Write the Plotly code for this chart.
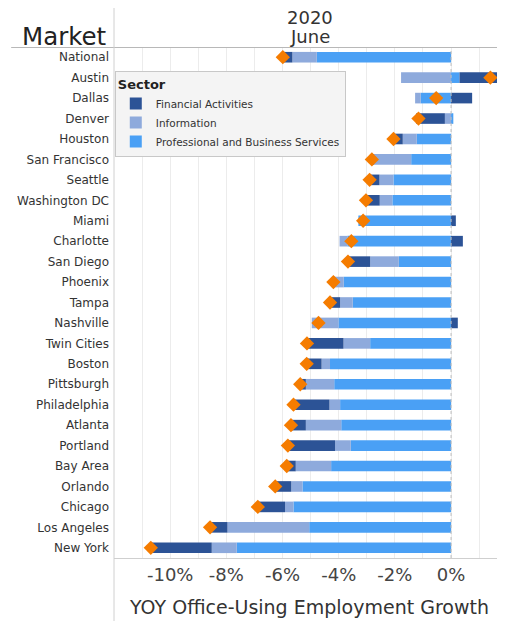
import plotly.graph_objects as go

markets = ["National", "Austin", "Dallas", "Denver", "Houston", "San Francisco", "Seattle",
           "Washington DC", "Miami", "Charlotte", "San Diego", "Phoenix", "Tampa", "Nashville",
           "Twin Cities", "Boston", "Pittsburgh", "Philadelphia", "Atlanta", "Portland",
           "Bay Area", "Orlando", "Chicago", "Los Angeles", "New York"]

prof_business = [-4.78, 0.30, -1.08, 0.08, -1.22, -1.42, -2.05, -2.09, -3.30, -3.69, -1.86, -3.82, -3.50,
                 -4.01, -2.88, -4.31, -4.16, -3.95, -3.91, -3.57, -4.27, -5.29, -5.61, -5.05, -7.63]
information = [-0.87, -1.78, -0.20, -0.22, -0.50, -1.32, -0.50, -0.45, 0.00, -0.28, -1.02, -0.33, -0.45,
               -0.95, -0.95, -0.30, -1.01, -0.38, -1.26, -0.56, -1.26, -0.40, -0.30, -2.91, -0.89]
financial = [-0.34, 2.88, 0.75, -1.02, -0.33, -0.08, -0.35, -0.49, 0.17, 0.42, -0.79, -0.04, -0.36,
             0.24, -1.30, -0.53, -0.20, -1.28, -0.53, -1.68, -0.32, -0.57, -0.97, -0.62, -2.17]

totals = [p + i + f for p, i, f in zip(prof_business, information, financial)]

tick_vals = [-10, -8, -6, -4, -2, 0]
tick_text = ["-10%", "-8%", "-6%", "-4%", "-2%", "0%"]

FONT = "DejaVu Sans"
C_PROF = "#4aa0f5"
C_INFO = "#8eaadc"
C_FIN = "#2c5396"
C_TOT = "#f57c00"

fig = go.Figure()
fig.add_trace(go.Bar(y=markets, x=prof_business, orientation="h", name="Professional and Business Services",
                     marker=dict(color=C_PROF, line=dict(width=0)), width=0.52))
fig.add_trace(go.Bar(y=markets, x=information, orientation="h", name="Information",
                     marker=dict(color=C_INFO, line=dict(width=0)), width=0.52))
fig.add_trace(go.Bar(y=markets, x=financial, orientation="h", name="Financial Activities",
                     marker=dict(color=C_FIN, line=dict(width=0)), width=0.52))
fig.add_trace(go.Scatter(y=markets, x=totals, mode="markers", showlegend=False,
                         marker=dict(symbol="diamond", size=11, color=C_TOT)))

# page body has an 8px margin; the figure is sized so the plot lands at the reference pixels
fig.update_layout(
    width=497, height=613,
    margin=dict(l=106, r=0, t=39, b=63),
    barmode="relative",
    plot_bgcolor="white", paper_bgcolor="white",
    font=dict(family=FONT, color="#333333"),
    hovermode=False,
    legend=dict(
        x=0.002, y=0.953, xanchor="left", yanchor="top",
        bgcolor="#f4f4f4", bordercolor="#c8c8c8", borderwidth=1,
        traceorder="reversed",
        font=dict(size=10.5, family=FONT, color="#333333"),
        title=dict(text="<b>Sector</b>", font=dict(size=13, family=FONT, color="#222222")),
        itemwidth=30, tracegroupgap=0,
    ),
    xaxis=dict(
        range=[-12.0, 1.92],
        tickvals=tick_vals, ticktext=tick_text,
        showgrid=True, gridcolor="#ececec", gridwidth=1,
        minor=dict(dtick=1, tick0=0, showgrid=True, gridcolor="#ececec", gridwidth=1),
        zeroline=False,
        showline=True, linecolor="#cfcfcf", linewidth=1,
        ticks="", tickfont=dict(size=18, family=FONT, color="#444444"),
        title=dict(text="YOY Office-Using Employment Growth", font=dict(size=19, family=FONT, color="#333333"),
                   standoff=17),
        automargin=False, fixedrange=True,
    ),
    yaxis=dict(
        categoryorder="array", categoryarray=markets, range=[24.5, -0.5],
        showgrid=False, zeroline=False, showline=False,
        ticks="", tickfont=dict(size=12, family=FONT, color="#333333"),
        ticklabelstandoff=4,
        automargin=False, fixedrange=True,
    ),
    shapes=[
        dict(type="line", xref="x", yref="paper", x0=0, x1=0, y0=0, y1=1,
             line=dict(color="#bdbdbd", width=1, dash="dot")),
        dict(type="line", xref="paper", yref="paper", x0=-0.263, x1=1, y0=0.999, y1=0.999,
             line=dict(color="#b8b8b8", width=1)),
        dict(type="line", xref="paper", yref="paper", x0=0, x1=0, y0=-0.125, y1=1.082,
             line=dict(color="#d0d0d0", width=1)),
    ],
    annotations=[
        dict(text="Market", xref="paper", yref="paper", x=-0.012, y=1.0215, xanchor="right", yanchor="middle",
             showarrow=False, font=dict(size=24.5, family=FONT, color="#222222")),
        dict(text="2020", xref="paper", yref="paper", x=0.5, y=1.058, xanchor="center", yanchor="middle",
             showarrow=False, font=dict(size=18, family=FONT, color="#333333")),
        dict(text="June", xref="paper", yref="paper", x=0.5, y=1.0196, xanchor="center", yanchor="middle",
             showarrow=False, font=dict(size=18, family=FONT, color="#333333")),
    ],
)

fig.write_html("out.html")
